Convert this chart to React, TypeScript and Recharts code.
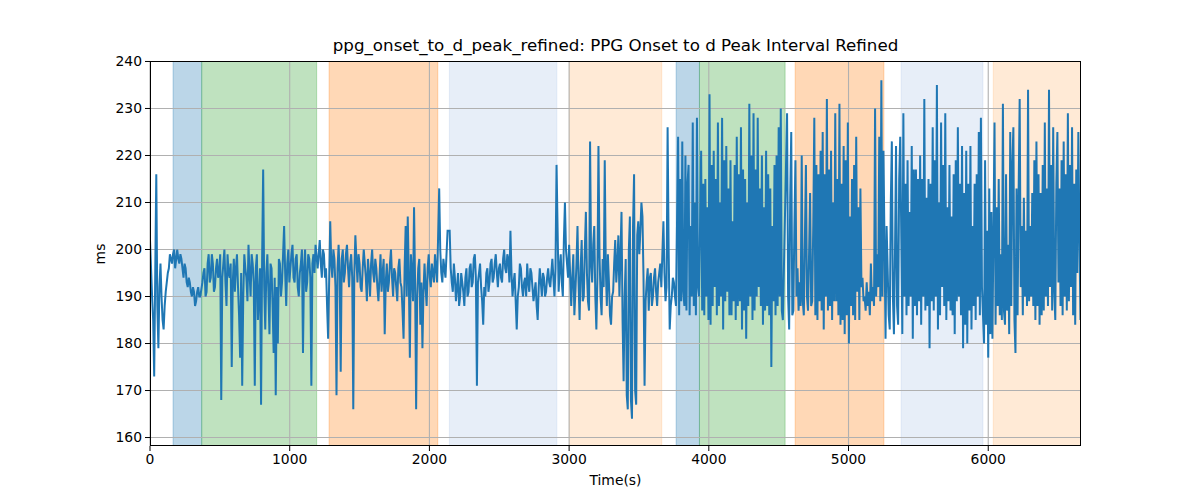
import React from 'react';
import { LineChart, Line, XAxis, YAxis, ReferenceArea, ReferenceLine } from 'recharts';

// sample spacing of the series, seconds
const STEP = 7.5;

// values, one array per shaded stretch
const startValues = [202, 196, 190, 185, 173, 195, 216, 188, 179, 192,
  197, 190, 185, 183, 188, 191, 193, 195, 196, 199,
  198, 197, 199, 200, 196, 198, 200, 198, 197, 199,
  198, 196, 194, 197, 196, 193, 192, 194, 193, 191,
  190, 192, 191, 188, 189, 191, 192, 190, 190];
const green1Values = [193, 195, 196, 190, 191, 197, 199, 193, 194, 199,
  197, 191, 192, 196, 198, 194, 195, 199, 168, 194,
  197, 200, 193, 188, 199, 195, 194, 197, 175, 193,
  198, 191, 196, 199, 192, 186, 177, 195, 171, 190,
  199, 196, 194, 189, 201, 195, 190, 199, 197, 193,
  171, 196, 199, 185, 190, 196, 167, 198, 217, 192,
  183, 195, 199, 191, 182, 197, 196, 188, 178, 194,
  169, 192, 180, 198, 197, 190, 193, 199, 205, 195,
  188, 197, 200, 193, 196, 199, 201, 194, 193, 198,
  199, 192, 190, 195, 197, 200, 178, 196, 200, 191,
  193, 199, 198, 194, 171, 197, 199, 195, 201];
const gap1Values = [196, 199, 202, 197, 194, 200, 199, 194, 196, 188, 181];
const orange1Values = [206, 197, 194, 200, 198, 192, 169, 196, 201, 195,
  174, 198, 200, 193, 195, 199, 201, 196, 192, 197,
  199, 194, 166, 195, 203, 198, 193, 199, 197, 192,
  191, 196, 200, 197, 194, 189, 198, 195, 190, 197,
  200, 195, 193, 198, 196, 192, 189, 194, 199, 191,
  195, 198, 182, 193, 197, 191, 193, 197, 200, 194,
  190, 196, 195, 192, 189, 196, 198, 193, 192, 187,
  181, 196, 205, 190, 207, 194, 177, 199, 195, 189,
  209, 193, 166, 190, 196, 198, 184, 193, 179, 191,
  197, 192, 188, 196, 199, 194, 192, 197, 195, 193,
  199, 196, 193];
const gap2Values = [213, 200, 195, 193, 198, 196, 194, 199, 204];
const lightBlue1Values = [204, 196, 193, 191, 197, 194, 189, 192, 195, 188,
  190, 195, 193, 191, 188, 194, 196, 190, 191, 196,
  197, 192, 193, 198, 199, 194, 171, 193, 195, 197,
  192, 189, 184, 192, 190, 195, 196, 191, 193, 197,
  198, 193, 194, 197, 199, 195, 192, 196, 197, 194,
  193, 198, 200, 196, 195, 199, 198, 193, 204, 195,
  190, 193, 195, 189, 183, 190, 192, 197, 196, 192,
  190, 193, 194, 190, 197, 193, 191, 196, 195, 192,
  189, 191, 193, 188, 185, 192, 196, 193, 190, 195,
  194, 190, 191, 194, 196, 193, 192, 195, 198, 194,
  190, 196, 218];
const gap3Values = [191, 196, 199, 193, 190, 202, 210, 200, 197, 194, 201];
const lightOrange1Values = [188, 194, 199, 186, 191, 197, 205, 193, 185, 196,
  202, 189, 190, 200, 208, 195, 189, 187, 223, 197,
  193, 201, 205, 190, 183, 194, 222, 199, 190, 186,
  198, 192, 219, 196, 188, 199, 193, 186, 184, 190,
  191, 197, 202, 193, 197, 203, 190, 199, 208, 185,
  172, 190, 198, 169, 166, 200, 207, 168, 164, 205,
  216, 170, 167, 203, 206, 199, 204, 210, 207, 194,
  171, 189, 193, 196, 187, 194, 195, 188, 190, 194,
  196, 191, 188, 193, 195, 197, 192];
const gap4Values = [206, 195, 189, 192, 226, 200, 183, 188, 190, 194, 193, 190, 188];
const blue2Values = [224, 186, 215, 189, 223, 191, 188, 220, 187, 214,
  218, 186, 205, 190, 227, 188, 210, 186, 228, 192, 190];
const green2Values = [221, 187, 214, 186, 215, 190, 209, 185, 233, 184,
  218, 188, 221, 192, 215, 186, 227, 188, 210, 190,
  228, 183, 219, 189, 222, 191, 213, 186, 219, 186,
  206, 189, 218, 185, 224, 188, 216, 189, 226, 183,
  217, 187, 215, 181, 210, 188, 231, 190, 220, 185,
  229, 187, 217, 190, 228, 192, 213, 188, 220, 184,
  209, 187, 221, 188, 216, 186, 213, 175, 205, 189,
  218, 186, 220, 188, 226, 190, 230, 187, 185];
const gap5Values = [229, 190, 183, 211, 225, 186, 187, 205];
const orange2Values = [219, 190, 196, 187, 193, 188, 220, 189, 186, 202,
  218, 190, 187, 199, 212, 188, 189, 205, 228, 186,
  218, 185, 216, 189, 221, 187, 225, 183, 216, 190,
  232, 187, 217, 188, 221, 185, 210, 189, 229, 189,
  215, 186, 231, 184, 214, 185, 222, 182, 219, 186,
  227, 180, 207, 188, 215, 186, 218, 185, 224, 191,
  209, 185, 213, 192, 194, 189, 190, 187, 193, 188,
  191, 186, 197, 189, 192, 188, 230, 190, 199, 192,
  224, 189, 236, 190, 221];
const gap6Values = [181, 205, 196, 186, 183, 210, 223, 190, 182, 199, 222, 188, 184, 215, 224];
const lightBlue2Values = [182, 229, 190, 214, 186, 219, 188, 208, 190, 222,
  181, 217, 188, 217, 186, 215, 189, 220, 184, 215,
  190, 232, 187, 211, 188, 215, 179, 214, 189, 226,
  187, 219, 190, 235, 183, 210, 186, 227, 192, 218,
  188, 229, 185, 209, 189, 218, 187, 207, 186, 216,
  182, 219, 189, 226, 190, 214, 186, 222, 179, 212,
  184, 221, 180, 214, 187, 222, 183, 205, 188, 214,
  185, 216, 190, 225, 186, 228, 192];
const gap7Values = [180, 219, 184, 204, 177, 213, 182, 208, 181];
const lightOrange2Values = [227, 184, 209, 188, 215, 186, 199, 185, 231, 187,
  184, 216, 187, 201, 182, 225, 188, 218, 226, 185,
  178, 213, 186, 212, 232, 192, 205, 186, 211, 190,
  204, 188, 234, 189, 205, 190, 212, 188, 219, 185,
  223, 188, 216, 184, 212, 186, 218, 187, 227, 190,
  213, 188, 234, 192, 218, 187, 226, 191, 185, 214,
  225, 193, 213, 188, 219, 186, 223, 190, 216, 187,
  229, 189, 218, 192, 226, 186, 214, 184, 217, 195,
  225, 204, 185];

const segments: [number, number[]][] = [
  [0, startValues],
  [375, green1Values],
  [1200, gap1Values],
  [1290, orange1Values],
  [2070, gap2Values],
  [2145, lightBlue1Values],
  [2925, gap3Values],
  [3015, lightOrange1Values],
  [3675, gap4Values],
  [3780, blue2Values],
  [3945, green2Values],
  [4560, gap5Values],
  [4620, orange2Values],
  [5265, gap6Values],
  [5385, lightBlue2Values],
  [5970, gap7Values],
  [6045, lightOrange2Values],
];

const spanStarts = [165, 370, 1282, 2143, 3002, 3766, 3933, 4618, 5377, 6036];
const spanEnds = [370, 1193, 2060, 2912, 3663, 3933, 4546, 5253, 5962, 6664];
const spanColors = ['#1f77b4', '#2ca02c', '#ff7f0e', '#aec7e8', '#ffbb78', '#1f77b4', '#2ca02c', '#ff7f0e', '#aec7e8', '#ffbb78'];

const xTicks = [0, 1000, 2000, 3000, 4000, 5000, 6000];
const yTicks = [160, 170, 180, 190, 200, 210, 220, 230, 240];

const X_MAX = 6664;
const Y_MIN = 158.2;
const Y_MAX = 240.1;

const data = segments.flatMap(([start, vals]) => vals.map((v, i) => ({ t: start + i * STEP, v })));

const FONT = '"DejaVu Sans", sans-serif';
const W = 1200;
const H = 500;
const M = { top: 61, right: 119, bottom: 24, left: 90 };
const Y_AXIS_W = 60;
const X_AXIS_H = 30;

export default function App() {
  const plotLeft = M.left + Y_AXIS_W;
  const plotTop = M.top;
  const plotW = W - plotLeft - M.right;
  const plotH = H - M.top - M.bottom - X_AXIS_H;
  const tickStyle = { fontFamily: FONT, fontSize: 13.9, fill: '#000' };

  return (
    <div style={{ position: 'relative', width: W, height: H, background: '#fff', fontFamily: FONT }}>
      <style>{'body{margin:0}'}</style>
      <LineChart width={W} height={H} data={data} margin={M}>
        <XAxis
          dataKey="t"
          type="number"
          domain={[0, X_MAX]}
          ticks={xTicks}
          allowDataOverflow
          height={X_AXIS_H}
          tick={tickStyle}
          tickSize={5}
          tickMargin={3}
          tickLine={{ stroke: '#000', strokeWidth: 1 }}
          axisLine={false}
        />
        <YAxis
          type="number"
          domain={[Y_MIN, Y_MAX]}
          ticks={yTicks}
          allowDataOverflow
          width={Y_AXIS_W}
          tick={tickStyle}
          tickSize={5}
          tickMargin={3}
          tickLine={{ stroke: '#000', strokeWidth: 1 }}
          axisLine={false}
        />
        {spanStarts.map((x1, i) => (
          <ReferenceArea
            key={`span-${i}`}
            x1={x1}
            x2={spanEnds[i]}
            y1={Y_MIN}
            y2={Y_MAX}
            fill={spanColors[i]}
            fillOpacity={0.3}
            stroke={spanColors[i]}
            strokeOpacity={0.3}
            ifOverflow="hidden"
          />
        ))}
        {xTicks.map((x) => (
          <ReferenceLine key={`gx-${x}`} x={x} stroke="#b0b0b0" strokeWidth={1.1} />
        ))}
        {yTicks.filter((y) => y < Y_MAX).map((y) => (
          <ReferenceLine key={`gy-${y}`} y={y} stroke="#b0b0b0" strokeWidth={1.1} />
        ))}
        <Line
          dataKey="v"
          type="linear"
          stroke="#1f77b4"
          strokeWidth={2}
          dot={false}
          isAnimationActive={false}
        />
      </LineChart>
      <div
        style={{
          position: 'absolute',
          left: plotLeft,
          top: plotTop,
          width: plotW,
          height: plotH,
          border: '1px solid #000',
          boxSizing: 'border-box',
          pointerEvents: 'none',
        }}
      />
      <div style={{ position: 'absolute', left: plotLeft, width: plotW, top: 35, textAlign: 'center', fontSize: 16.7, lineHeight: '20px' }}>
        ppg_onset_to_d_peak_refined: PPG Onset to d Peak Interval Refined
      </div>
      <div style={{ position: 'absolute', left: plotLeft, width: plotW, top: 472, textAlign: 'center', fontSize: 13.9, lineHeight: '17px' }}>
        Time(s)
      </div>
      <div
        style={{
          position: 'absolute',
          left: 100,
          top: plotTop + plotH / 2,
          transform: 'translate(-50%, -50%) rotate(-90deg)',
          fontSize: 13.9,
          lineHeight: '17px',
        }}
      >
        ms
      </div>
    </div>
  );
}
